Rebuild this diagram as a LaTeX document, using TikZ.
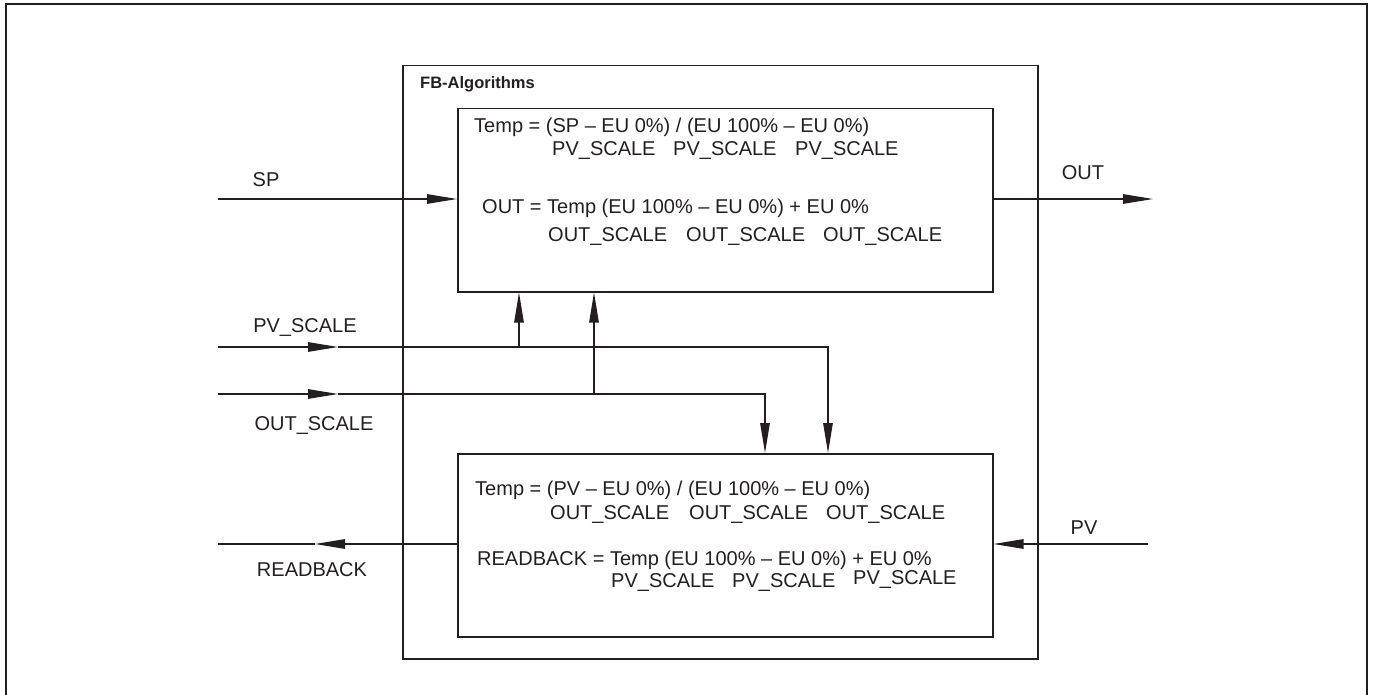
\documentclass[tikz,border=0pt]{standalone}
\usepackage{fontspec}
\setmainfont{Liberation Sans}
\usetikzlibrary{arrows.meta}
\definecolor{ink}{HTML}{231F20}
\tikzset{
  ln/.style={draw=ink, line width=1.3pt},
  arr/.style={ln, -{Triangle[length=30pt,width=9.5pt]}},
  blk/.style={draw=ink, line width=1.5pt, inner sep=0pt, minimum width=535pt, minimum height=183pt, anchor=north west},
  txt/.style={inner sep=0pt, anchor=base west, text=ink, font=\fontsize{20}{24}\selectfont},
  lbl/.style={inner sep=0pt, anchor=base, text=ink, font=\fontsize{20}{24}\selectfont}
}
\begin{document}
\begin{tikzpicture}[x=1pt,y=-1pt]
\useasboundingbox (0,0) rectangle (1374,695);
% outer frame (no bottom edge visible)
\draw[ink, line width=2pt] (5.5,696) -- (5.5,4) -- (1367,4) -- (1367,696);
% FB-Algorithms box
\node[draw=ink, line width=1.5pt, inner sep=0pt, minimum width=635pt, minimum height=593pt, anchor=north west] (fb) at (402,65) {};
\node[inner sep=0pt, anchor=base west, text=ink, font=\fontsize{16.5}{20}\selectfont\bfseries] (fbl) at (420,89) {FB-Algorithms};
% inner blocks
\node[blk] (top) at (457,108) {};
\node[blk] (bot) at (457,453) {};
% top block text
\node[txt] (t1) at (474,133) {Temp = (SP – EU 0\%) / (EU 100\% – EU 0\%)};
\node[txt] (t2a) at (552,156) {PV\_SCALE};
\node[txt] (t2b) at (673,156) {PV\_SCALE};
\node[txt] (t2c) at (795,156) {PV\_SCALE};
\node[txt] (t3) at (482,214) {OUT = Temp (EU 100\% – EU 0\%) + EU 0\%};
\node[txt] (t4a) at (548,242) {OUT\_SCALE};
\node[txt] (t4b) at (686,242) {OUT\_SCALE};
\node[txt] (t4c) at (823,242) {OUT\_SCALE};
% bottom block text
\node[txt] (b1) at (475,495) {Temp = (PV – EU 0\%) / (EU 100\% – EU 0\%)};
\node[txt] (b2a) at (550,519) {OUT\_SCALE};
\node[txt] (b2b) at (689,519) {OUT\_SCALE};
\node[txt] (b2c) at (826,519) {OUT\_SCALE};
\node[txt] (b3) at (477,565) {READBACK = Temp (EU 100\% – EU 0\%) + EU 0\%};
\node[txt] (b4a) at (611,587) {PV\_SCALE};
\node[txt] (b4b) at (732,587) {PV\_SCALE};
\node[txt] (b4c) at (853,584) {PV\_SCALE};
% outside labels
\node[lbl] (lsp) at (266,187) {SP};
\node[lbl] (lout) at (1083,180) {OUT};
\node[lbl] (lpvs) at (305,332) {PV\_SCALE};
\node[lbl] (louts) at (314,430) {OUT\_SCALE};
\node[lbl] (lrb) at (312,576) {READBACK};
\node[lbl] (lpv) at (1084,534) {PV};
% coordinates
\coordinate (spin) at (218,199);
\coordinate (outend) at (1153,199);
\coordinate (pvsin) at (218,347);
\coordinate (pvsmid) at (338,347);
\coordinate (pvsbr) at (519,347);
\coordinate (pvsturn) at (828,347);
\coordinate (osin) at (218,394);
\coordinate (osmid) at (338,394);
\coordinate (osbr) at (594,394);
\coordinate (osturn) at (765,394);
\coordinate (rbend) at (218,544);
\coordinate (rbmid) at (315,544);
\coordinate (pvin) at (1148,544);
% connectors
\draw[arr] (spin) -- (spin -| top.west);
\draw[arr] (top.east |- outend) -- (outend);
\draw[arr] (pvsin) -- (pvsmid);
\draw[arr] (pvsmid) -- (pvsturn) -- (pvsturn |- bot.north);
\draw[arr] (pvsbr) -- (pvsbr |- top.south);
\draw[arr] (osin) -- (osmid);
\draw[arr] (osmid) -- (osturn) -- (osturn |- bot.north);
\draw[arr] (osbr) -- (osbr |- top.south);
\draw[arr] (bot.west |- rbend) -- (rbmid);
\draw[ln] (rbmid) -- (rbend);
\draw[arr] (pvin) -- (pvin -| bot.east);
\end{tikzpicture}
\end{document}
